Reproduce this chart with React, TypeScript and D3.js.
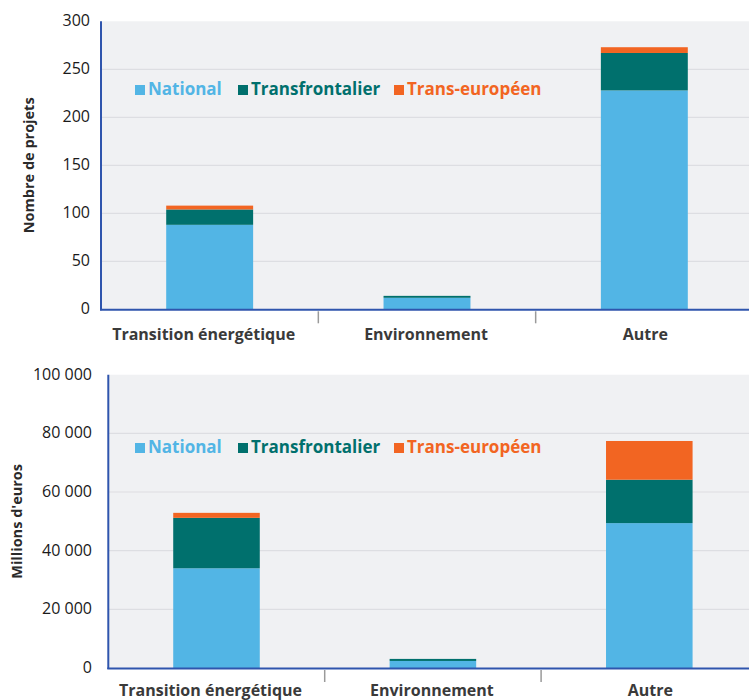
import React from "react";
import * as d3 from "d3";

const categories = ["Transition énergétique", "Environnement", "Autre"];
const seriesNames = ["National", "Transfrontalier", "Trans-européen"];
const seriesColors = ["#52b5e5", "#00706d", "#f26522"];

const projectsNational = [88, 12, 228];
const projectsTransfrontalier = [16, 2, 39];
const projectsTransEuropeen = [4, 0, 6];
const projectsTicks = [0, 50, 100, 150, 200, 250, 300];

const amountsNational = [34000, 2400, 49400];
const amountsTransfrontalier = [17200, 700, 14800];
const amountsTransEuropeen = [1700, 0, 13200];
const amountsTicks = [0, 20000, 40000, 60000, 80000, 100000];

const FONT = "'Open Sans', Lato, sans-serif";
const fmtSpace = d3.formatLocale({ decimal: ",", thousands: " ", grouping: [3], currency: ["", "€"] }).format(",d");

type PanelProps = {
  values: number[][];
  ticks: number[];
  yMax: number;
  x0: number;
  x1: number;
  yTop: number;
  yBottom: number;
  yTitle: string;
  yTitleX: number;
  tickLabelX: number;
  legendY: number;
  catLabelY: number;
  format: (v: number) => string;
};

function Panel(p: PanelProps) {
  const x = d3.scaleBand<string>().domain(categories).range([p.x0, p.x1]).padding(0);
  const y = d3.scaleLinear().domain([0, p.yMax]).range([p.yBottom, p.yTop]);
  const table = categories.map((c, i) => {
    const row: any = { cat: c };
    seriesNames.forEach((s, j) => (row[s] = p.values[j][i]));
    return row;
  });
  const stacked = d3.stack<any>().keys(seriesNames)(table);
  const bw = x.bandwidth() * 0.4;
  const legendX = [135, 238, 394];
  const labelShift = [-6, -1, 1];
  return (
    <g>
      <rect x={p.x0} y={p.yTop} width={749 - p.x0} height={p.yBottom - p.yTop} fill="#f0f1f3" />
      {p.ticks.filter((t) => t > 0 && t < p.yMax).map((t) => (
        <line key={t} x1={p.x0} x2={749} y1={y(t)} y2={y(t)} stroke="#dddee2" strokeWidth={1.2} />
      ))}
      {p.ticks.map((t) => (
        <text key={"l" + t} x={p.tickLabelX} y={y(t) + 5} textAnchor="end" fontSize={16} fill="#1a1a1a" fontFamily={FONT}>
          {p.format(t)}
        </text>
      ))}
      {stacked.map((s, j) =>
        s.map((d, i) => (
          <rect
            key={j + "-" + i}
            x={(x(categories[i]) as number) + x.bandwidth() / 2 - bw / 2}
            y={y(d[1])}
            width={bw}
            height={Math.max(0, y(d[0]) - y(d[1]))}
            fill={seriesColors[j]}
          />
        ))
      )}
      <line x1={p.x0} x2={p.x0} y1={p.yTop} y2={p.yBottom + 1} stroke="#2f55ad" strokeWidth={2} />
      <line x1={p.x0 - 1} x2={749} y1={p.yBottom + 0.5} y2={p.yBottom + 0.5} stroke="#2f55ad" strokeWidth={2} />
      {categories.slice(1).map((c) => (
        <line key={"t" + c} x1={x(c) as number} x2={x(c) as number} y1={p.yBottom + 2} y2={p.yBottom + 14} stroke="#9a9a9a" strokeWidth={1.5} />
      ))}
      {categories.map((c, i) => (
        <text key={"c" + c} x={(x(c) as number) + x.bandwidth() / 2 + labelShift[i]} y={p.catLabelY} textAnchor="middle" fontSize={16} fontWeight="bold" fill="#3a3a3a" fontFamily={FONT}>
          {c}
        </text>
      ))}
      <text
        transform={`translate(${p.yTitleX},${(p.yTop + p.yBottom) / 2}) rotate(-90)`}
        textAnchor="middle"
        fontSize={14.5}
        fontWeight="bold"
        fill="#2a2a2a"
        fontFamily={FONT}
      >
        {p.yTitle}
      </text>
      {seriesNames.map((s, j) => (
        <g key={"lg" + s}>
          <rect x={legendX[j]} y={p.legendY - 4} width={10} height={10} fill={seriesColors[j]} />
          <text x={legendX[j] + 13} y={p.legendY + 6} fontSize={17} fontWeight="bold" fill={seriesColors[j]} fontFamily={FONT}>
            {s}
          </text>
        </g>
      ))}
    </g>
  );
}

export default function App() {
  return (
    <svg width={749} height={700} style={{ position: "absolute", left: 0, top: 0, background: "#fff" }}>
      <Panel
        values={[projectsNational, projectsTransfrontalier, projectsTransEuropeen]}
        ticks={projectsTicks}
        yMax={300}
        x0={101}
        x1={753}
        yTop={21.3}
        yBottom={309.3}
        yTitle="Nombre de projets"
        yTitleX={34}
        tickLabelX={90}
        legendY={89}
        catLabelY={340}
        format={(v) => String(v)}
      />
      <Panel
        values={[amountsNational, amountsTransfrontalier, amountsTransEuropeen]}
        ticks={amountsTicks}
        yMax={100000}
        x0={108.3}
        x1={757.5}
        yTop={374.7}
        yBottom={668}
        yTitle="Millions d'euros"
        yTitleX={22}
        tickLabelX={92}
        legendY={447}
        catLabelY={696}
        format={fmtSpace}
      />
    </svg>
  );
}
